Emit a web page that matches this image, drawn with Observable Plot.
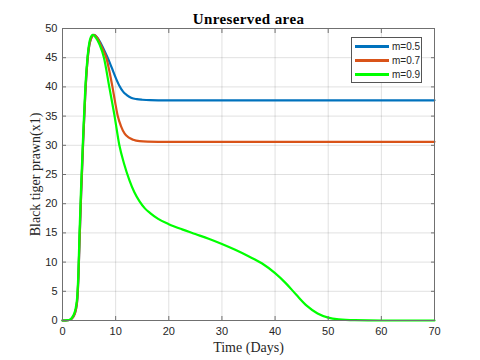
<!DOCTYPE html>
<html>
<head>
<meta charset="utf-8">
<script src="https://cdn.jsdelivr.net/npm/d3@7"></script>
<script src="https://cdn.jsdelivr.net/npm/@observablehq/plot@0.6"></script>
<style>
  html, body { margin: 0; padding: 0; background: #fff; }
  #chart { position: relative; width: 480px; height: 360px; }
  #chart g[font-weight="bold"] text { letter-spacing: 0.4px; }
  .legend { position: absolute; left: 351px; top: 37px; width: 71px; height: 46px; box-sizing: border-box;
    border: 1px solid #555; background: #fff; font: 10px "Liberation Sans", Arial, sans-serif; color: #262626; }
  .legend .row { position: absolute; left: 0; height: 14px; display: flex; align-items: center; white-space: nowrap; }
  .legend .sw { display: inline-block; width: 34px; height: 3px; margin-left: 3px; margin-right: 3px; }
</style>
</head>
<body>
<div id="chart"></div>
<script>
const title = "Unreserved area";
const xLabel = "Time (Days)";
const yLabel = "Black tiger prawn(x1)";
const xTicks = [0, 10, 20, 30, 40, 50, 60, 70];
const yTicks = [0, 5, 10, 15, 20, 25, 30, 35, 40, 45, 50];
const seriesNames = ["m=0.5", "m=0.7", "m=0.9"];
const seriesColors = ["#0072BD", "#D95319", "#00FF00"];

const daysA = [0, 1, 1.5, 2, 2.5, 2.8, 3, 3.2, 3.5, 3.9, 4.3, 4.7, 5.2, 5.9, 6.6, 7.3, 8, 8.6, 9.3, 10, 10.7, 11.4, 12.1, 13, 14, 15, 16.5, 18, 20, 30, 40, 50, 60, 70];
const valsA = [0, 0.04, 0.15, 0.6, 1.8, 3.8, 7.5, 13.5, 21.5, 31, 39, 44.5, 47.8, 48.9, 48.4, 47.3, 46, 44.8, 43.2, 41.6, 40.2, 39.2, 38.6, 38.1, 37.9, 37.8, 37.72, 37.7, 37.7, 37.7, 37.7, 37.7, 37.7, 37.7];

const daysB = [0, 1, 1.5, 2, 2.5, 2.8, 3, 3.2, 3.5, 3.9, 4.3, 4.7, 5.2, 5.9, 6.6, 7.3, 7.8, 8.3, 8.8, 9.4, 9.9, 10.4, 11, 11.7, 12.5, 13.3, 14.5, 16, 18, 20, 30, 40, 50, 60, 70];
const valsB = [0, 0.04, 0.15, 0.6, 1.8, 3.8, 7.5, 13.5, 21.5, 31, 39, 44.5, 47.8, 48.9, 48.3, 47, 46, 44.8, 42.8, 40, 37.4, 35, 33.3, 32, 31.3, 30.95, 30.7, 30.62, 30.6, 30.6, 30.6, 30.6, 30.6, 30.6, 30.6];

const daysC = [0, 1, 1.5, 2, 2.5, 2.8, 3, 3.2, 3.5, 3.9, 4.3, 4.7, 5.2, 5.7, 6.3, 7, 7.8, 8.8, 9.8, 10.7, 11.6, 12.6, 13.5, 14.5, 15.5, 16.5, 18, 20, 22.5, 25, 27.5, 30, 32.5, 35, 37.5, 40, 42, 44, 46, 48, 50, 52, 55, 60, 65, 70];
const valsC = [0, 0.05, 0.2, 0.8, 2.2, 4.5, 8.5, 15, 23, 32, 40, 45, 48.2, 48.9, 48.4, 47.2, 45, 40, 35, 30, 26.8, 24, 22, 20.4, 19.2, 18.4, 17.4, 16.5, 15.6, 14.8, 14, 13.1, 12.1, 11, 9.8, 8.1, 6.4, 4.4, 2.5, 1.2, 0.5, 0.2, 0.05, 0, 0, 0];

const allDays = [daysA, daysB, daysC];
const allVals = [valsA, valsB, valsC];
const data = [];
seriesNames.forEach((name, i) => {
  allDays[i].forEach((d, j) => data.push({series: name, day: d, value: allVals[i][j]}));
});

const serif = "'Liberation Serif', 'Times New Roman', serif";
const chart = Plot.plot({
  width: 480,
  height: 360,
  marginLeft: 62,
  marginRight: 46,
  marginTop: 28,
  marginBottom: 40,
  style: {fontFamily: "'Liberation Sans', Arial, sans-serif", fontSize: "11px", color: "#262626", background: "#fff"},
  x: {domain: [0, 70]},
  y: {domain: [0, 50]},
  color: {domain: seriesNames, range: seriesColors},
  marks: [
    Plot.gridX(xTicks, {stroke: "#000", strokeOpacity: 0.12}),
    Plot.gridY(yTicks, {stroke: "#000", strokeOpacity: 0.12}),
    Plot.line(data, {x: "day", y: "value", z: "series", stroke: "series", strokeWidth: 2.2, curve: "monotone-x"}),
    Plot.frame({stroke: "#707070", strokeWidth: 1}),
    Plot.axisX(xTicks, {anchor: "bottom", tickSize: -4, tickPadding: 11, label: null, stroke: "#707070", fill: "#262626"}),
    Plot.axisX(xTicks, {anchor: "top", tickSize: -4, tickFormat: () => "", label: null, stroke: "#707070"}),
    Plot.axisY(yTicks, {anchor: "left", tickSize: -4, tickPadding: 9, label: null, stroke: "#707070", fill: "#262626"}),
    Plot.axisY(yTicks, {anchor: "right", tickSize: -4, tickFormat: () => "", label: null, stroke: "#707070"}),
    Plot.text([title], {frameAnchor: "top", dy: -15, fontFamily: serif, fontWeight: "bold", fontSize: 15, fill: "#000"}),
    Plot.text([xLabel], {frameAnchor: "bottom", dy: 31, fontFamily: serif, fontSize: 14, fill: "#262626"}),
    Plot.text([yLabel], {frameAnchor: "left", textAnchor: "middle", dx: -27, rotate: -90, fontFamily: serif, fontSize: 14, fill: "#262626"})
  ]
});
const root = document.getElementById("chart");
root.appendChild(chart);

const legend = document.createElement("div");
legend.className = "legend";
seriesNames.forEach((name, i) => {
  const row = document.createElement("div");
  row.className = "row";
  row.style.top = (1 + i * 14.2) + "px";
  const sw = document.createElement("span");
  sw.className = "sw";
  sw.style.background = seriesColors[i];
  row.appendChild(sw);
  const tx = document.createElement("span");
  tx.textContent = name;
  row.appendChild(tx);
  legend.appendChild(row);
});
root.appendChild(legend);
</script>
</body>
</html>
